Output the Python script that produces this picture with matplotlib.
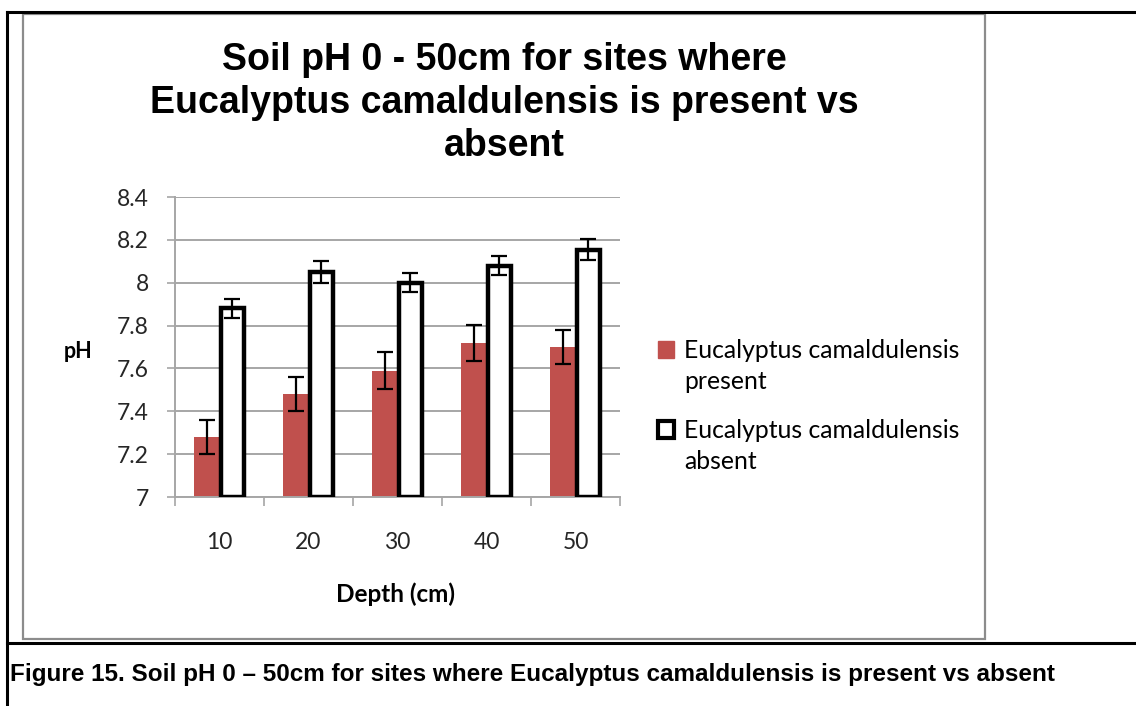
import matplotlib
matplotlib.use('Agg')
import matplotlib.pyplot as plt
import numpy as np
from matplotlib.lines import Line2D
from matplotlib.patches import Rectangle, Patch
from matplotlib.legend_handler import HandlerPatch

depths = ['10', '20', '30', '40', '50']
present = [7.28, 7.48, 7.59, 7.72, 7.70]
present_err = [0.08, 0.08, 0.085, 0.085, 0.08]
absent = [7.88, 8.05, 8.00, 8.08, 8.155]
absent_err = [0.045, 0.05, 0.045, 0.045, 0.05]
yticks = [7, 7.2, 7.4, 7.6, 7.8, 8, 8.2, 8.4]
ytick_labels = ['7', '7.2', '7.4', '7.6', '7.8', '8', '8.2', '8.4']

W, H = 1136, 706
red = '#C0504D'
grid_col = '#A6A6A6'
tick_font = 'Lato'
fs = 16.5
leg_fs = 17.8
leg_ls = 1.41

fig = plt.figure(figsize=(W / 100, H / 100), dpi=100)

def fx(px):
    return px / W

def fy(py):
    return 1 - py / H

# table borders around chart + caption
fig.add_artist(Line2D([fx(7), 1], [fy(12), fy(12)], color='black', lw=2.2))
fig.add_artist(Line2D([fx(7), fx(7)], [fy(12), 0], color='black', lw=2.2))
fig.add_artist(Line2D([fx(7), 1], [fy(643), fy(643)], color='black', lw=2.2))

# chart area frame
fig.add_artist(Rectangle((fx(23), fy(639)), fx(985) - fx(23), fy(14) - fy(639),
                         fill=False, edgecolor='#8C8C8C', lw=1.6))

ax = fig.add_axes([fx(175), fy(497), fx(620) - fx(175), fy(197) - fy(497)])

x = np.arange(len(depths))
bw = 0.29
ax.bar(x - bw / 2, [p - 7 for p in present], bw, bottom=7, color=red, zorder=2)
ax.errorbar(x - bw / 2, present, yerr=present_err, fmt='none', ecolor='black',
            elinewidth=1.6, capsize=6, capthick=1.6, zorder=4)
ax.bar(x + bw / 2, [a - 7 for a in absent], bw * 0.86, bottom=7, color='white',
       edgecolor='black', linewidth=3.2, zorder=3)
ax.errorbar(x + bw / 2, absent, yerr=absent_err, fmt='none', ecolor='black',
            elinewidth=1.6, capsize=6, capthick=1.6, zorder=4)

ax.set_xlim(-0.5, len(depths) - 0.5)
ax.set_ylim(7, 8.4)
ax.set_yticks(yticks)
ax.set_yticklabels(ytick_labels, fontfamily=tick_font, fontsize=fs, color='#262626')
ax.set_xticks(x)
ax.set_xticklabels(depths, fontfamily=tick_font, fontsize=fs, color='#262626')
ax.set_xticks(np.arange(len(depths) + 1) - 0.5, minor=True)
ax.tick_params(axis='x', which='major', length=0, pad=25.5)
ax.tick_params(axis='x', which='minor', length=6.5, width=1.2, color=grid_col)
ax.tick_params(axis='y', length=5.8, width=1.2, color=grid_col, pad=13)
ax.yaxis.grid(True, color=grid_col, lw=1.4, zorder=0)
ax.set_axisbelow(True)
for s in ['top', 'right']:
    ax.spines[s].set_visible(False)
ax.spines['left'].set_color(grid_col)
ax.spines['left'].set_linewidth(1.4)
ax.spines['bottom'].set_color(grid_col)
ax.spines['bottom'].set_linewidth(1.4)

fig.text(fx(504), fy(103), 'Soil pH 0 - 50cm for sites where\nEucalyptus camaldulensis is present vs\nabsent',
         ha='center', va='center', fontfamily='Liberation Sans', fontweight='bold',
         fontsize=27, linespacing=1.235)
fig.text(fx(78), fy(352), 'pH', ha='center', va='center', fontfamily=tick_font,
         fontweight='bold', fontsize=15.5)
fig.text(fx(396), fy(594), 'Depth (cm)', ha='center', va='center', fontfamily=tick_font,
         fontweight='bold', fontsize=17.5)


# legend squares sit next to the first line of each two-line label
def top_square(legend, orig_handle, xdescent, ydescent, width, height, fontsize):
    shift = 0.5 * fontsize * leg_ls
    return Rectangle((-xdescent, -ydescent + shift), width, height)


handles = [Patch(facecolor=red, edgecolor=red),
           Patch(facecolor='white', edgecolor='black', linewidth=3)]
leg = fig.legend(handles, ['Eucalyptus camaldulensis\npresent', 'Eucalyptus camaldulensis\nabsent'],
                 loc='upper left', bbox_to_anchor=(fx(646), fy(327)), frameon=False, borderpad=0,
                 prop={'family': tick_font, 'size': leg_fs}, handlelength=0.65, handleheight=0.65,
                 handletextpad=0.4, labelspacing=1.05,
                 handler_map={Patch: HandlerPatch(patch_func=top_square)})
for t in leg.get_texts():
    t.set_linespacing(leg_ls)

fig.text(fx(10), fy(674), 'Figure 15. Soil pH 0 \u2013 50cm for sites where Eucalyptus camaldulensis is present vs absent',
         ha='left', va='center', fontfamily='Liberation Sans', fontweight='bold', fontsize=17.5)

fig.savefig('out.png', dpi=100)
